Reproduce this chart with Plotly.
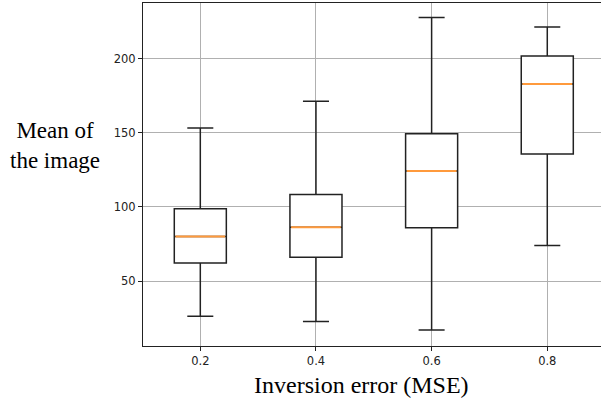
import plotly.graph_objects as go

# Data
positions = [0.2, 0.4, 0.6, 0.8]
tick_labels = ["0.2", "0.4", "0.6", "0.8"]
lower_whisker = [26.3, 22.7, 17.0, 74.0]
q1_values = [62.1, 66.1, 85.9, 135.7]
median_values = [80.0, 86.3, 124.2, 182.9]
q3_values = [98.7, 108.3, 149.3, 201.7]
upper_whisker = [153.2, 171.3, 227.8, 221.3]

box_width = 0.09

fig = go.Figure()
fig.add_trace(go.Box(
    x=positions,
    q1=q1_values,
    median=median_values,
    q3=q3_values,
    lowerfence=lower_whisker,
    upperfence=upper_whisker,
    width=box_width,
    whiskerwidth=0.5,
    fillcolor="white",
    line=dict(color="#222222", width=1.5),
    boxpoints=False,
    hoverinfo="skip",
    showlegend=False,
))

# orange median lines on top
mx, my = [], []
for p, m in zip(positions, median_values):
    mx += [p - box_width / 2 + 0.002, p + box_width / 2 - 0.002, None]
    my += [m, m, None]
fig.add_trace(go.Scatter(
    x=mx, y=my, mode="lines",
    line=dict(color="#ff9a3c", width=2),
    hoverinfo="skip", showlegend=False,
))

tick_font = dict(family="DejaVu Sans", size=11.5, color="#222222")

fig.update_layout(
    width=601, height=404,
    margin=dict(l=143, r=0, t=3, b=58),
    paper_bgcolor="white", plot_bgcolor="white",
    xaxis=dict(
        range=[0.1009, 0.8929],
        tickvals=positions, ticktext=tick_labels,
        showgrid=True, gridcolor="#b0b0b0", gridwidth=1,
        zeroline=False,
        showline=True, linecolor="#222222", linewidth=1.2, mirror=True,
        ticks="outside", ticklen=4, tickcolor="#222222",
        tickfont=tick_font,
    ),
    yaxis=dict(
        range=[6.2, 237.5],
        tickvals=[50, 100, 150, 200],
        showgrid=True, gridcolor="#b0b0b0", gridwidth=1,
        zeroline=False,
        showline=True, linecolor="#222222", linewidth=1.2,
        ticks="outside", ticklen=4, tickcolor="#222222",
        tickfont=tick_font,
    ),
    annotations=[
        dict(text="Inversion error (MSE)", xref="paper", yref="paper",
             x=0.476, y=0, yshift=-54, xanchor="center", yanchor="bottom",
             showarrow=False,
             font=dict(family="Liberation Serif", size=24, color="black")),
        dict(text="Mean of<br>the image", xref="paper", yref="paper",
             x=0, xshift=-88, y=0.585, xanchor="center", yanchor="middle",
             align="center", showarrow=False,
             font=dict(family="Liberation Serif", size=23, color="black")),
    ],
)

fig.write_html("out.html")
